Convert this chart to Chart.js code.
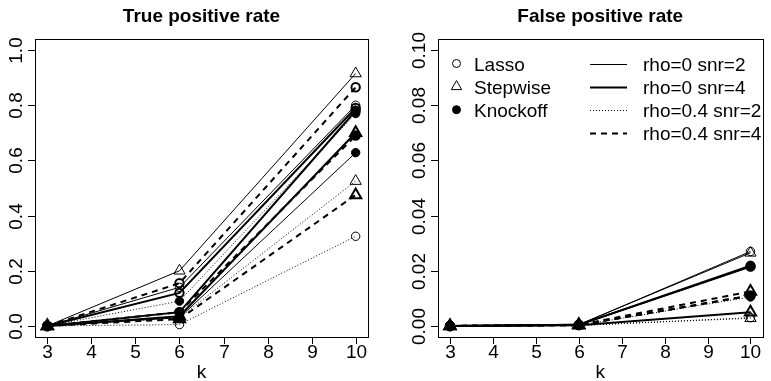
<!DOCTYPE html>
<html>
<head>
<meta charset="utf-8">
<script src="https://cdn.jsdelivr.net/npm/chart.js@4.4.1/dist/chart.umd.min.js"></script>
<style>
html, body { margin: 0; padding: 0; background: #fff; }
#wrap { position: relative; width: 771px; height: 381px; overflow: hidden; }
canvas { position: absolute; top: 0; }
#tpr_chart { left: 0; }
#fpr_chart { left: 385px; }
</style>
</head>
<body>
<div id="wrap">
	<canvas id="tpr_chart" width="385" height="381"></canvas>
	<canvas id="fpr_chart" width="386" height="381"></canvas>
</div>
<script>
var k_values = [3, 6, 10];
var x_ticks = [3, 4, 5, 6, 7, 8, 9, 10];
var methods = ['Lasso', 'Stepwise', 'Knockoff'];
var settings = ['rho=0 snr=2', 'rho=0 snr=4', 'rho=0.4 snr=2', 'rho=0.4 snr=4'];

// one row per setting (same order as settings), one column per k
var tpr_lasso    = [[0, 0.140, 0.800], [0, 0.120, 0.790], [0, 0.005, 0.325], [0, 0.155, 0.865]];
var tpr_stepwise = [[0, 0.200, 0.915], [0, 0.035, 0.700], [0, 0.030, 0.525], [0, 0.025, 0.475]];
var tpr_knockoff = [[0, 0.030, 0.628], [0, 0.050, 0.780], [0, 0.090, 0.770], [0, 0.050, 0.690]];

var fpr_lasso    = [[0, 0.0004, 0.0270], [0, 0.0004, 0.0215], [0, 0.0002, 0.0030], [0, 0.0003, 0.0110]];
var fpr_stepwise = [[0, 0.0005, 0.0265], [0, 0.0003, 0.0050], [0, 0.0002, 0.0028], [0, 0.0004, 0.0125]];
var fpr_knockoff = [[0, 0.0004, 0.0215], [0, 0.0004, 0.0218], [0, 0.0002, 0.0105], [0, 0.0003, 0.0110]];

var tpr_y_ticks = [0, 0.2, 0.4, 0.6, 0.8, 1.0];
var fpr_y_ticks = [0, 0.02, 0.04, 0.06, 0.08, 0.10];

var font_family = '"Liberation Sans", Arial, Helvetica, sans-serif';

// styles
var setting_width = [1, 2, 1, 2];
var setting_dash = [[], [], [1, 2], [6, 5]];
var method_style = [
	{ pointStyle: 'circle', radius: 4.2, fill: 'rgba(0,0,0,0)' },
	{ pointStyle: 'triangle', radius: 6.5, fill: 'rgba(0,0,0,0)' },
	{ pointStyle: 'circle', radius: 4.2, fill: '#000' }
];

function build_datasets(rows_per_method)
{
	var datasets = [];
	for (var m = 0; m < methods.length; m++)
	{
		for (var s = 0; s < settings.length; s++)
		{
			var row = rows_per_method[m][s];
			datasets.push({
				label: methods[m] + ' ' + settings[s],
				data: k_values.map(function(k, i) { return { x: k, y: row[i] }; }),
				borderColor: '#000',
				borderWidth: setting_width[s],
				borderDash: setting_dash[s],
				tension: 0,
				fill: false,
				pointStyle: method_style[m].pointStyle,
				pointRadius: method_style[m].radius,
				pointBackgroundColor: method_style[m].fill,
				pointBorderColor: '#000',
				pointBorderWidth: setting_width[s]
			});
		}
	}
	return datasets;
}

// R-like frame, ticks, labels, title and legend
var r_axes_plugin = {
	id: 'raxes',
	afterDraw: function(chart)
	{
		var opt = chart.options.plugins.raxes;
		var ctx = chart.ctx, a = chart.chartArea;
		var xs = chart.scales.x, ys = chart.scales.y;
		ctx.save();
		ctx.setLineDash([]);
		ctx.strokeStyle = '#000';
		ctx.fillStyle = '#000';
		ctx.lineWidth = 1;
		ctx.strokeRect(Math.round(a.left) + 0.5, Math.round(a.top) + 0.5, Math.round(a.right - a.left), Math.round(a.bottom - a.top));

		// x axis
		ctx.font = '19px ' + font_family;
		ctx.textAlign = 'center';
		ctx.textBaseline = 'alphabetic';
		x_ticks.forEach(function(t)
		{
			var px = Math.round(xs.getPixelForValue(t)) + 0.5;
			ctx.beginPath();
			ctx.moveTo(px, a.bottom);
			ctx.lineTo(px, a.bottom + 7);
			ctx.stroke();
			ctx.fillText(String(t), px, a.bottom + 21);
		});
		ctx.fillText('k', (a.left + a.right) / 2, 378);

		// y axis
		opt.yTicks.forEach(function(t)
		{
			var py = Math.round(ys.getPixelForValue(t)) + 0.5;
			ctx.beginPath();
			ctx.moveTo(a.left, py);
			ctx.lineTo(a.left - 7, py);
			ctx.stroke();
			ctx.save();
			ctx.translate(a.left - 13, py);
			ctx.rotate(-Math.PI / 2);
			ctx.fillText(t.toFixed(opt.decimals), 0, 0);
			ctx.restore();
		});

		// title
		ctx.font = 'bold 19px ' + font_family;
		ctx.fillText(opt.title, (a.left + a.right) / 2, 22);

		if (opt.legend)
		{
			var row_y = [63.5, 86.6, 109.7, 132.8];
			ctx.font = '19px ' + font_family;
			ctx.textAlign = 'left';
			for (var m = 0; m < methods.length; m++)
			{
				ctx.lineWidth = 1;
				ctx.fillStyle = method_style[m].fill;
				ctx.strokeStyle = '#000';
				Chart.helpers.drawPoint(ctx, {
					pointStyle: method_style[m].pointStyle,
					radius: method_style[m].pointStyle == 'triangle' ? 6 : 4,
					rotation: 0,
					borderWidth: 1
				}, a.left + 18.5, row_y[m]);
				ctx.fillStyle = '#000';
				ctx.fillText(methods[m], a.left + 36, row_y[m] + 7);
			}
			for (var s = 0; s < settings.length; s++)
			{
				ctx.lineWidth = setting_width[s];
				ctx.setLineDash(setting_dash[s]);
				ctx.beginPath();
				ctx.moveTo(a.left + 152, Math.round(row_y[s]) + 0.5);
				ctx.lineTo(a.left + 189, Math.round(row_y[s]) + 0.5);
				ctx.stroke();
				ctx.setLineDash([]);
				ctx.fillText(settings[s], a.left + 205, row_y[s] + 7);
			}
		}
		ctx.restore();
	}
};

function make_panel(canvas_id, title, rows_per_method, y_min, y_max, y_ticks, decimals, pad, show_legend)
{
	var ctx = document.getElementById(canvas_id).getContext('2d');
	return new Chart(ctx, {
		type: 'line',
		data: { datasets: build_datasets(rows_per_method) },
		options: {
			responsive: false,
			animation: false,
			devicePixelRatio: 1,
			layout: { padding: pad },
			scales: {
				x: { type: 'linear', min: 2.72, max: 10.28, display: false },
				y: { type: 'linear', min: y_min, max: y_max, display: false }
			},
			plugins: {
				legend: { display: false },
				tooltip: { enabled: false },
				raxes: { title: title, yTicks: y_ticks, decimals: decimals, legend: show_legend }
			}
		},
		plugins: [r_axes_plugin]
	});
}

make_panel('tpr_chart', 'True positive rate', [tpr_lasso, tpr_stepwise, tpr_knockoff],
	-0.04, 1.04, tpr_y_ticks, 1, { left: 35, right: 17, top: 39, bottom: 44 }, false);
make_panel('fpr_chart', 'False positive rate', [fpr_lasso, fpr_stepwise, fpr_knockoff],
	-0.004, 0.104, fpr_y_ticks, 2, { left: 53, right: 1, top: 39, bottom: 44 }, true);
</script>
</body>
</html>
